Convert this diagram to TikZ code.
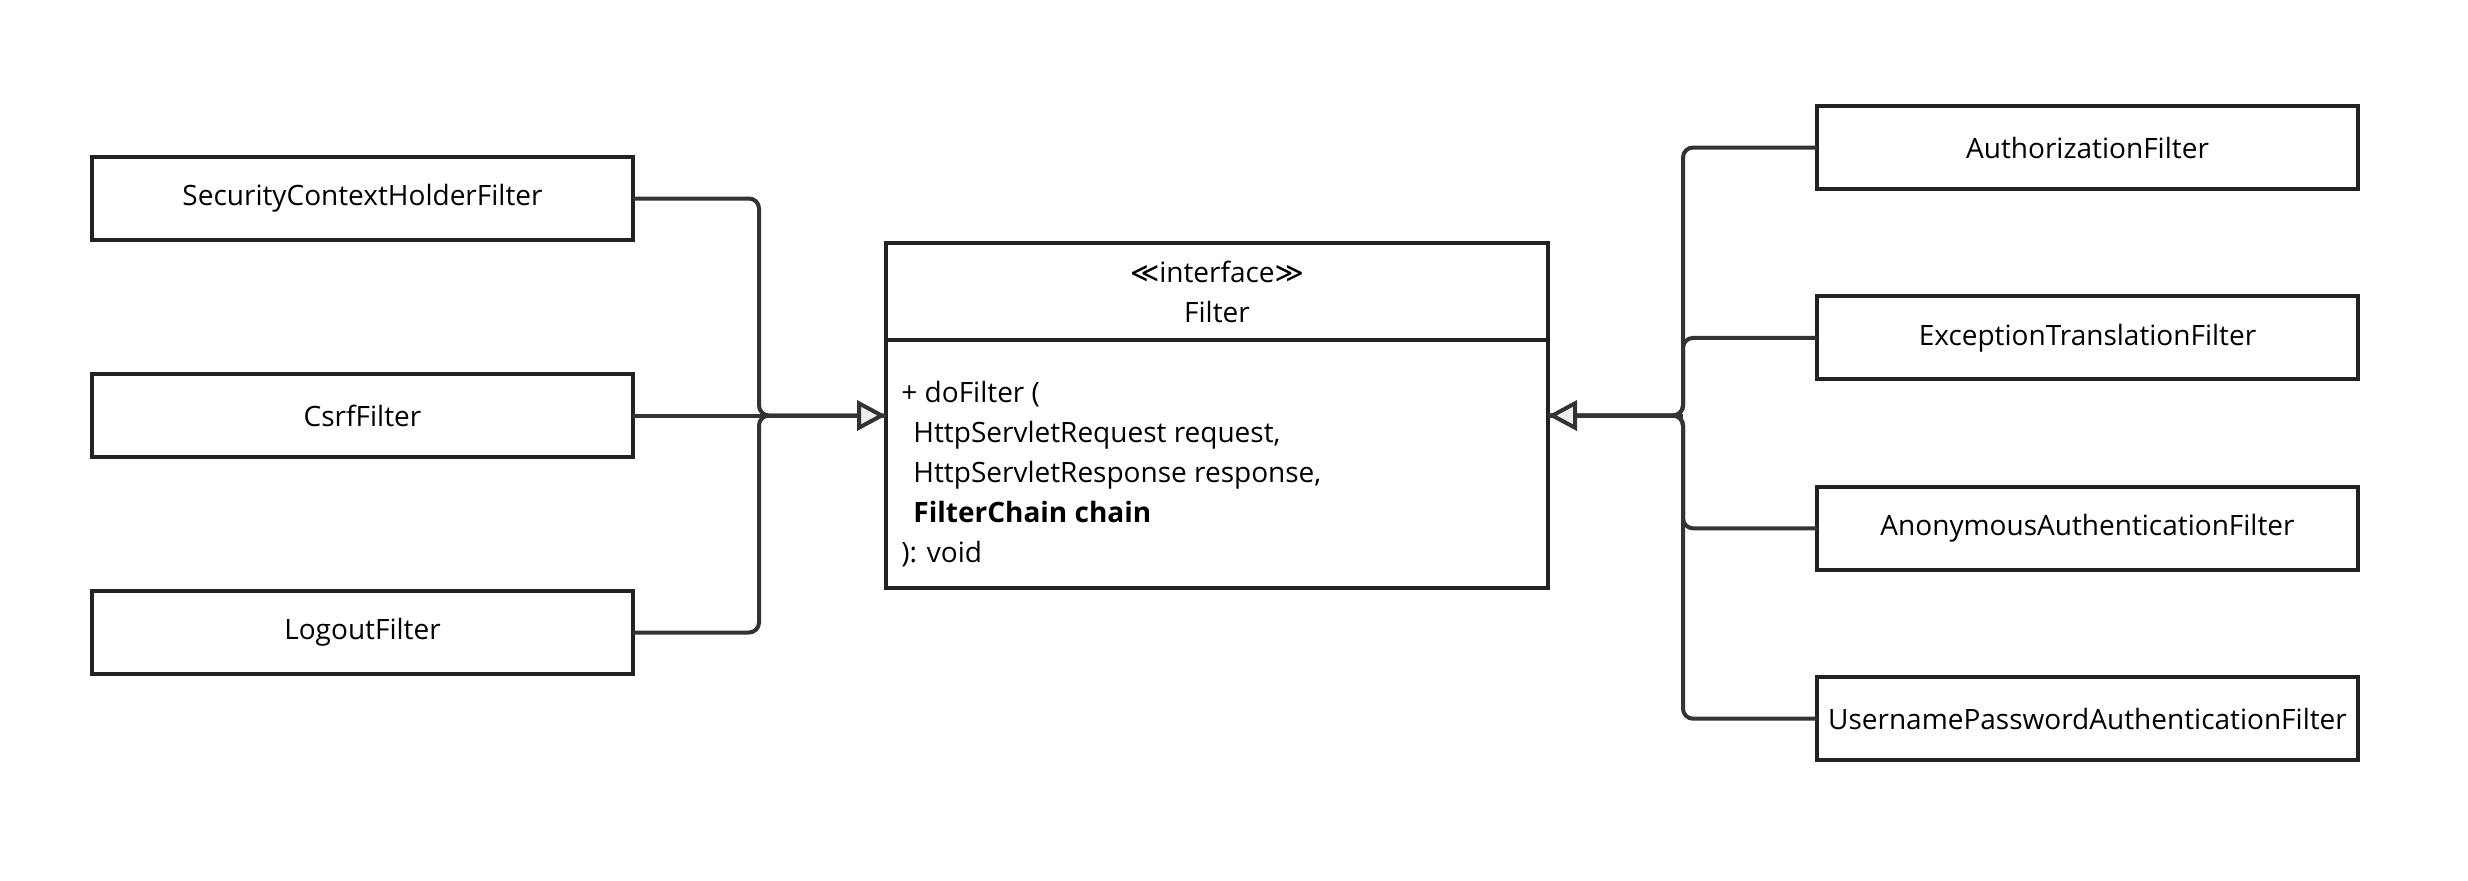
\documentclass[tikz,border=0pt]{standalone}
\usepackage{fontspec}
\setmainfont{Open Sans}
\newfontfamily\symbfont{DejaVu Sans}
\usetikzlibrary{positioning, arrows.meta}
\definecolor{boxline}{HTML}{222222}
\definecolor{linkline}{HTML}{333333}
\definecolor{tipfill}{HTML}{EEEEEE}

\begin{document}
\begin{tikzpicture}[x=0.5pt, y=-0.5pt,
	filterbox/.style={draw=boxline, line width=2pt, minimum width=270.5pt, minimum height=41.5pt, outer sep=0pt, font=\fontsize{14}{20}\selectfont},
	umlbox/.style={draw=boxline, line width=2pt, minimum width=331pt, outer sep=0pt, font=\fontsize{14}{20}\selectfont},
	link/.style={draw=linkline, line width=2pt, rounded corners=5pt},
	inherit/.style={link, -{Triangle[length=14.5pt, width=15pt, fill=tipfill]}}]
	\useasboundingbox (0,0) rectangle (2468,880);

	% left column
	\node(sec) [filterbox, anchor=north west] at (92,157) {SecurityContextHolderFilter};
	\node(csrf) [filterbox, below=67pt of sec] {CsrfFilter};
	\node(logout) [filterbox, below=67pt of csrf] {LogoutFilter};

	% interface
	\node(filterhead) [umlbox, anchor=north west, minimum height=48.5pt, align=center] at (886,243) {{\symbfont ≪}interface{\symbfont ≫}\\Filter};
	\node(filterbody) [umlbox, below=0pt of filterhead, minimum height=124pt] {};
	\node(ops) [anchor=west, align=left, inner sep=0pt, font=\fontsize{14}{20}\selectfont] at ([xshift=7.5pt, yshift=-5pt]filterbody.west)
		{+ doFilter (\\
		\hspace*{6pt}HttpServletRequest request,\\
		\hspace*{6pt}HttpServletResponse response,\\
		\hspace*{6pt}\textbf{FilterChain chain}\\
		): void};

	% right column
	\node(auth) [filterbox, anchor=north west] at (1817,106) {AuthorizationFilter};
	\node(exc) [filterbox, below=53.7pt of auth] {ExceptionTranslationFilter};
	\node(anon) [filterbox, below=53.7pt of exc] {AnonymousAuthenticationFilter};
	\node(user) [filterbox, below=53.7pt of anon] {UsernamePasswordAuthenticationFilter};

	% trunks of the two inheritance trees
	\coordinate(lbus) at (759,0);
	\coordinate(rbus) at (1683,0);
	\coordinate(ljoin) at (csrf.east -| lbus);
	\coordinate(ltip) at (csrf.east -| filterbody.west);
	\coordinate(rjoin) at (csrf.east -| rbus);
	\coordinate(rtip) at (csrf.east -| filterbody.east);

	\draw[link] (sec.east) -| (ljoin) -- (ltip);
	\draw[link] (logout.east) -| (ljoin) -- (ltip);
	\draw[inherit] (csrf.east) -- (ltip);

	\draw[link] (auth.west) -| (rjoin) -- (rtip);
	\draw[link] (exc.west) -| (rjoin) -- (rtip);
	\draw[link] (anon.west) -| (rjoin) -- (rtip);
	\draw[link] (user.west) -| (rjoin) -- (rtip);
	\draw[inherit] (rjoin) -- (rtip);

\end{tikzpicture}
\end{document}
